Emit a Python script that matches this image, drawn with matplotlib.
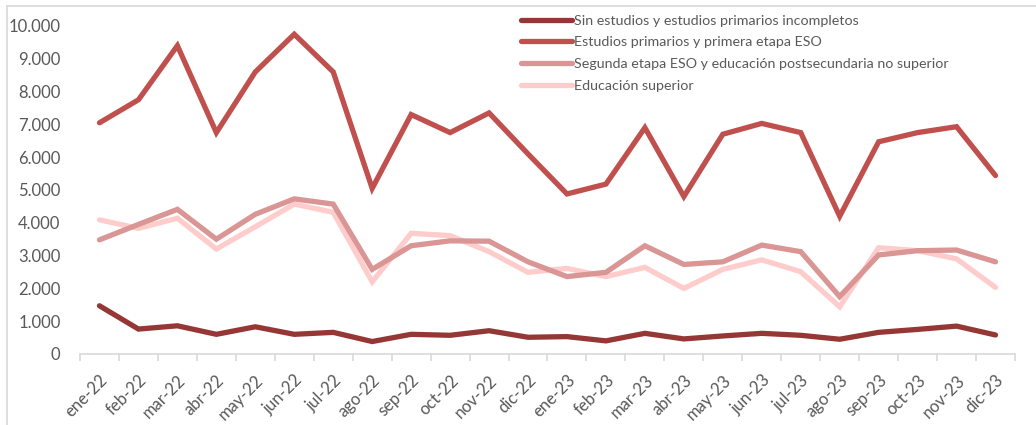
import numpy as np
import matplotlib.pyplot as plt
from matplotlib.lines import Line2D

# meses (eje x)
months = ["ene-22", "feb-22", "mar-22", "abr-22", "may-22", "jun-22",
          "jul-22", "ago-22", "sep-22", "oct-22", "nov-22", "dic-22",
          "ene-23", "feb-23", "mar-23", "abr-23", "may-23", "jun-23",
          "jul-23", "ago-23", "sep-23", "oct-23", "nov-23", "dic-23"]

sin_estudios = [1470, 760, 860, 600, 830, 600, 660, 380, 600, 570, 710, 510,
                530, 400, 630, 460, 550, 630, 570, 450, 660, 750, 850, 580]
primarios = [7050, 7750, 9400, 6750, 8600, 9750, 8600, 5050, 7300, 6750, 7350, 6100,
             4880, 5180, 6900, 4800, 6700, 7030, 6750, 4200, 6470, 6750, 6930, 5440]
segunda_etapa = [3480, 3950, 4410, 3500, 4260, 4730, 4570, 2580, 3300, 3450, 3440, 2810,
                 2360, 2490, 3300, 2730, 2810, 3320, 3120, 1750, 3020, 3150, 3170, 2810]
superior = [4090, 3830, 4140, 3200, 3880, 4570, 4320, 2200, 3680, 3610, 3120, 2490,
            2610, 2360, 2640, 2000, 2580, 2870, 2510, 1440, 3240, 3150, 2900, 2030]

labels = ["Sin estudios y estudios primarios incompletos",
          "Estudios primarios y primera etapa ESO",
          "Segunda etapa ESO y educación postsecundaria no superior",
          "Educación superior"]
colors = ["#953735", "#C0504D", "#D99694", "#FFCCCC"]

plt.rcParams['font.family'] = ['Lato', 'DejaVu Sans']

W, H = 1036, 425
fig = plt.figure(figsize=(W / 100, H / 100), dpi=100)
ax = fig.add_axes([80 / W, 1 - 354 / H, (1015 - 80) / W, (354 - 26) / H])

x = np.arange(len(months))
series = [sin_estudios, primarios, segunda_etapa, superior]
for vals, col, lab, z in zip(series, colors, labels, [5, 4, 3, 2]):
    ax.plot(x, vals, color=col, lw=3.8, solid_capstyle='round',
            solid_joinstyle='miter', label=lab, zorder=z, clip_on=False)

ax.set_xlim(-0.5, len(months) - 0.5)
ax.set_ylim(0, 10000)
ax.set_yticks(np.arange(0, 10001, 1000))
ax.set_yticklabels([f"{v:,}".replace(",", ".") for v in range(0, 10001, 1000)])

ax.set_xticks(x)
ax.set_xticklabels(months, rotation=45, ha='right', rotation_mode='anchor')
ax.set_xticks(np.arange(-0.5, len(months), 1), minor=True)
ax.tick_params(axis='x', which='major', length=0, pad=13, labelsize=12, colors='#595959')
ax.tick_params(axis='x', which='minor', length=5, color='#D9D9D9', width=1.2)
ax.tick_params(axis='y', length=0, pad=14, labelsize=12, colors='#595959')

for s in ['top', 'right', 'left']:
    ax.spines[s].set_visible(False)
ax.spines['bottom'].set_color('#D9D9D9')
ax.spines['bottom'].set_linewidth(1.2)

leg = ax.legend(loc='upper left', bbox_to_anchor=((515 - 80) / (1015 - 80), 1.052),
                frameon=False, fontsize=10.3, labelcolor='#595959',
                handlelength=3.6, handletextpad=0.15, labelspacing=0.68,
                borderaxespad=0)

# borde del área del gráfico
fig.add_artist(Line2D([7 / W, 1], [1 - 5.5 / H, 1 - 5.5 / H], color='#D9D9D9', lw=1.2))
fig.add_artist(Line2D([7 / W, 7 / W], [0, 1 - 5.5 / H], color='#D9D9D9', lw=1.2))

fig.savefig("out.png", dpi=100, facecolor='white')
